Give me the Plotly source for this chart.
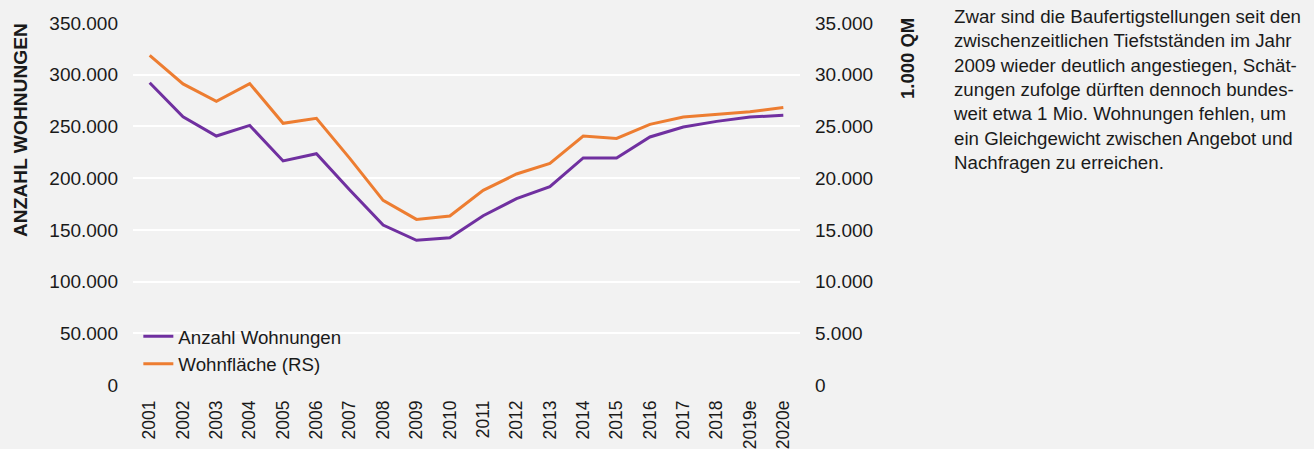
import plotly.graph_objects as go

years = ["2001", "2002", "2003", "2004", "2005", "2006", "2007", "2008", "2009", "2010",
         "2011", "2012", "2013", "2014", "2015", "2016", "2017", "2018", "2019e", "2020e"]
wohnungen = [292300, 259400, 240700, 251000, 216600, 223600, 188500, 154700, 139900, 142400,
             163700, 180200, 191800, 219500, 219500, 239800, 249400, 254900, 259100, 260700]
wohnflaeche = [31880, 29110, 27430, 29140, 25300, 25780, 21910, 17850, 16010, 16340,
               18820, 20400, 21430, 24070, 23840, 25200, 25910, 26140, 26430, 26820]
left_ticks = [0, 50000, 100000, 150000, 200000, 250000, 300000, 350000]
right_ticks = [0, 5000, 10000, 15000, 20000, 25000, 30000, 35000]

FONT = "Liberation Sans, Arial, sans-serif"
PURPLE = "#7030a0"
ORANGE = "#ed7d31"
BG = "#f2f2f2"

fig = go.Figure()
fig.add_trace(go.Scatter(x=years, y=wohnungen, name="Anzahl Wohnungen", mode="lines",
                         line=dict(color=PURPLE, width=3), yaxis="y"))
fig.add_trace(go.Scatter(x=years, y=wohnflaeche, name="Wohnfläche (RS)", mode="lines",
                         line=dict(color=ORANGE, width=3), yaxis="y2"))

text = ("Zwar sind die Baufertigstellungen seit den<br>"
        "zwischenzeitlichen Tiefstständen im Jahr<br>"
        "2009 wieder deutlich angestiegen, Schät-<br>"
        "zungen zufolge dürften dennoch bundes-<br>"
        "weit etwa 1 Mio. Wohnungen fehlen, um<br>"
        "ein Gleichgewicht zwischen Angebot und<br>"
        "Nachfragen zu erreichen.")

fig.update_layout(
    width=1314, height=449,
    margin=dict(l=133, r=514, t=23, b=64),
    paper_bgcolor=BG, plot_bgcolor=BG,
    separators=",.",
    font=dict(family=FONT, size=18, color="#1a1a1a"),
    showlegend=True,
    legend=dict(x=0.008, y=0.186, xanchor="left", yanchor="top",
                bgcolor="rgba(0,0,0,0)", font=dict(size=18.7, family=FONT),
                tracegroupgap=0, itemwidth=30),
    xaxis=dict(type="category", range=[-0.5, len(years) - 0.5], tickangle=-90,
               showgrid=False, zeroline=False, automargin=False,
               showline=False, ticks="", tickfont=dict(size=17.5),
               ticklabelstandoff=11),
    yaxis=dict(range=[0, 350000], tickvals=left_ticks, tickformat=",d",
               showgrid=True, gridcolor="white", gridwidth=1.5, zeroline=False,
               showline=False, ticks="", tickfont=dict(size=19), automargin=False,
               ticklabelstandoff=14),
    yaxis2=dict(range=[0, 35000], tickvals=right_ticks, tickformat=",d",
                overlaying="y", side="right", showgrid=False, zeroline=False,
                showline=False, ticks="", tickfont=dict(size=19), automargin=False,
                ticklabelstandoff=14),
    annotations=[
        dict(text="<b>ANZAHL WOHNUNGEN</b>", xref="paper", yref="paper",
             x=(20 - 133) / 667, y=(385 - 130) / 362, textangle=-90,
             showarrow=False, xanchor="center", yanchor="middle",
             font=dict(size=19.2, family=FONT, color="#1a1a1a")),
        dict(text="<b>1.000 QM</b>", xref="paper", yref="paper",
             x=(908 - 133) / 667, y=(385 - 59) / 362, textangle=-90,
             showarrow=False, xanchor="center", yanchor="middle",
             font=dict(size=18.5, family=FONT, color="#1a1a1a")),
        dict(text=text, xref="paper", yref="paper",
             x=(951 - 133) / 667, y=(385 - 4) / 362, showarrow=False,
             xanchor="left", yanchor="top", align="left",
             font=dict(size=18.7, family=FONT, color="#1a1a1a")),
    ],
)

fig.write_html("out.html", config={"displayModeBar": False},
               post_script="document.body.style.margin='0';document.body.style.background='#f2f2f2';")
